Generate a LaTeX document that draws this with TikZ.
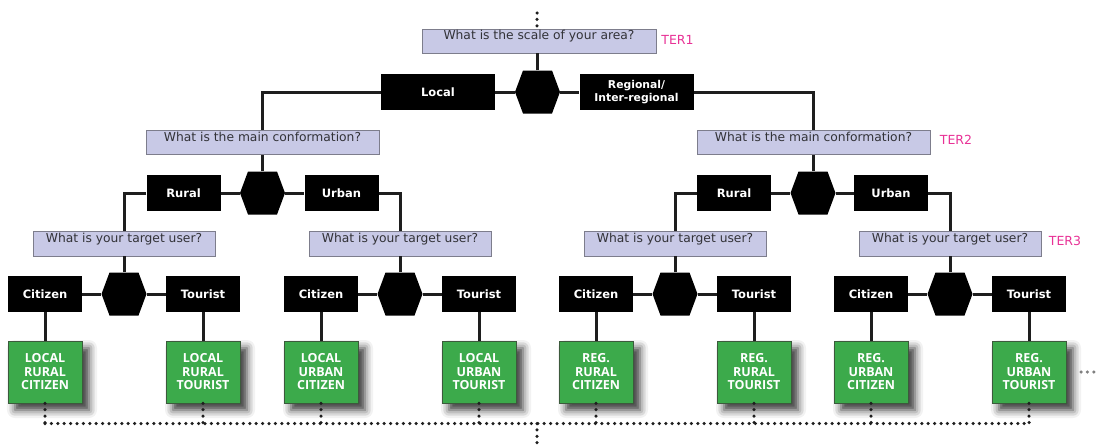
\documentclass[tikz,border=0pt]{standalone}
\usepackage{fontspec}
\setmainfont{DejaVu Sans}
\newfontfamily\greenfont{Open Sans}
\usetikzlibrary{shadows.blur}
\definecolor{qfill}{RGB}{200,201,230}
\definecolor{qdraw}{RGB}{125,125,140}
\definecolor{qtext}{RGB}{50,50,55}
\definecolor{gfill}{RGB}{60,170,75}
\definecolor{gdraw}{RGB}{60,90,60}
\definecolor{terpink}{RGB}{232,50,150}
\definecolor{wire}{RGB}{30,30,30}
\begin{document}
\begin{tikzpicture}[x=1pt,y=-1pt,
  question/.style={draw=qdraw, fill=qfill, line width=0.8pt, text=qtext,
    font=\fontsize{12.3}{14}\selectfont, minimum height=24, inner ysep=0,
    text height=10.5pt, text depth=13.5pt},
  choice/.style={fill=black, text=white, font=\bfseries\fontsize{11.5}{13.5}\selectfont,
    minimum width=74, minimum height=36, inner sep=0, align=center},
  hexa/.style={minimum width=45, minimum height=43, inner sep=0,
    path picture={\fill[black] (path picture bounding box.west)
      -- ([xshift=8pt]path picture bounding box.north west)
      -- ([xshift=-8pt]path picture bounding box.north east)
      -- (path picture bounding box.east)
      -- ([xshift=-8pt]path picture bounding box.south east)
      -- ([xshift=8pt]path picture bounding box.south west) -- cycle;}},
  result/.style={fill=gfill, draw=gdraw, line width=0.6pt, text=white,
    font=\greenfont\bfseries\fontsize{12.5}{13.5}\selectfont, align=center,
    minimum width=74, minimum height=62, inner sep=0,
    blur shadow={shadow xshift=7pt, shadow yshift=-7pt, shadow blur radius=8pt, shadow opacity=80}},
  terlabel/.style={text=terpink, font=\fontsize{12.5}{14}\selectfont, inner sep=0},
  wireline/.style={draw=wire, line width=3pt},
  dotline/.style={draw=wire, line width=3.5pt, line cap=round, dash pattern=on 0pt off 6.4pt}
]
\useasboundingbox (0,0) rectangle (1099,445);

% level 1
\node[question, minimum width=234] (q1) at (539,41) {What is the scale of your area?};
\node[terlabel] (ter1) at (677.5,40) {TER1};
\node[hexa] (h1) at (537.5,92) {};
\node[choice, minimum width=114] (loc) at (438,92) {Local};
\node[choice, minimum width=114, font=\bfseries\fontsize{10.8}{13.5}\selectfont] (reg) at (636.5,92) {Regional/\\Inter-regional};

% level 2
\node[question, minimum width=233] (q2a) at (262.5,142.5) {What is the main conformation?};
\node[question, minimum width=233] (q2b) at (813.5,142.5) {What is the main conformation?};
\node[terlabel] (ter2) at (956,140) {TER2};
\node[hexa] (h2a) at (262.5,193) {};
\node[hexa] (h2b) at (813,193) {};
\node[choice] (rurA) at (183.5,193) {Rural};
\node[choice] (urbA) at (341.5,193) {Urban};
\node[choice] (rurB) at (734,193) {Rural};
\node[choice] (urbB) at (891,193) {Urban};
\node[terlabel] (ter3) at (1065,241) {TER3};

% connectors level 1-2
\draw[wireline] (h1.north) -- (h1.north |- q1.south);
\draw[wireline] (loc.east) -- (h1.west);
\draw[wireline] (h1.east) -- (reg.west);
\draw[wireline] (loc.west) -| (q2a.north);
\draw[wireline] (reg.east) -| (q2b.north);
\draw[wireline] (h2a.north) -- (h2a.north |- q2a.south);
\draw[wireline] (h2b.north) -- (h2b.north |- q2b.south);
\draw[wireline] (rurA.east) -- (h2a.west);
\draw[wireline] (h2a.east) -- (urbA.west);
\draw[wireline] (rurB.east) -- (h2b.west);
\draw[wireline] (h2b.east) -- (urbB.west);

% level 3
\foreach \i/\x/\p/\q in {1/124/LOCAL/RURAL, 2/400/LOCAL/URBAN, 3/675/REG./RURAL, 4/950/REG./URBAN} {
  \node[question, minimum width=182, minimum height=25, text height=11pt, text depth=14pt] (q3-\i) at (\x,243.5) {What is your target user?};
  \node[hexa] (h3-\i) at (\x,294) {};
  \node[choice] (c-\i) at (\x-79,294) {Citizen};
  \node[choice] (t-\i) at (\x+79,294) {Tourist};
  \node[result] (gc-\i) at (\x-79,372) {\p\\\q\\CITIZEN};
  \node[result] (gt-\i) at (\x+79,372) {\p\\\q\\TOURIST};
  \draw[wireline] (h3-\i.north) -- (h3-\i.north |- q3-\i.south);
  \draw[wireline] (c-\i.east) -- (h3-\i.west);
  \draw[wireline] (h3-\i.east) -- (t-\i.west);
  \draw[wireline] (c-\i.south) -- (gc-\i.north);
  \draw[wireline] (t-\i.south) -- (gt-\i.north);
}
\draw[wireline] (rurA.west) -| (q3-1.north);
\draw[wireline] (urbA.east) -| (q3-2.north);
\draw[wireline] (rurB.west) -| (q3-3.north);
\draw[wireline] (urbB.east) -| (q3-4.north);

% dotted connectors
\coordinate (topend) at (537,13);
\coordinate (bus) at (537,423.5);
\coordinate (botend) at (537,445);
\coordinate (moreA) at (1081,372);
\coordinate (moreB) at (1095,372);
\draw[dotline] (topend) -- (topend |- q1.north);
\foreach \i in {1,...,4} {
  \draw[dotline] (gc-\i.south) -- (gc-\i.south |- bus);
  \draw[dotline] (gt-\i.south) -- (gt-\i.south |- bus);
}
\draw[dotline] (gc-1.south |- bus) -- (gt-4.south |- bus);
\draw[dotline] (bus) -- (botend);
\draw[dotline, draw=gray] (moreA) -- (moreB);
\end{tikzpicture}
\end{document}
